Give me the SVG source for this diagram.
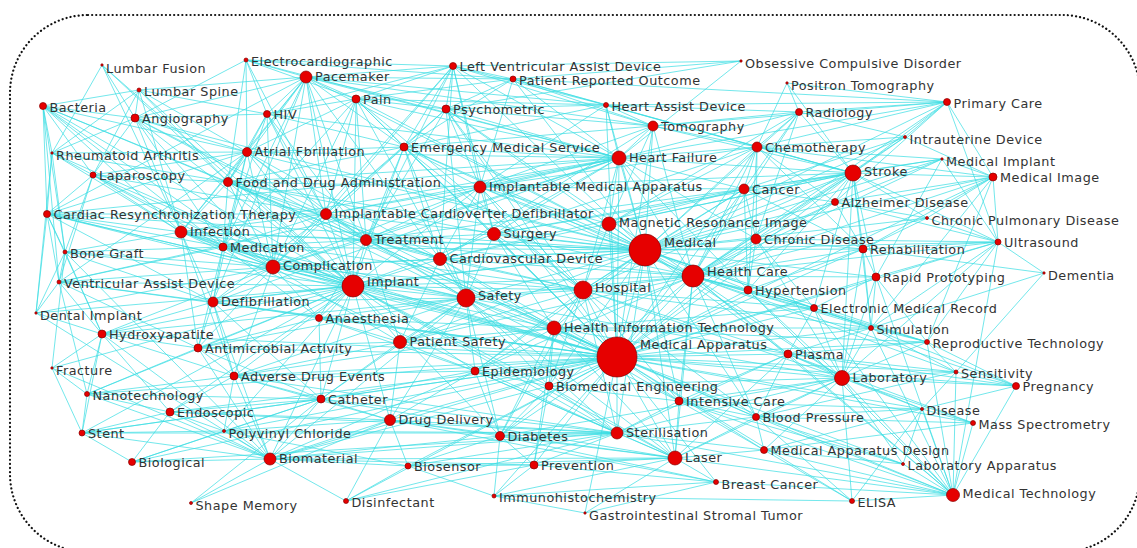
<svg xmlns="http://www.w3.org/2000/svg" width="1137" height="548" viewBox="0 0 1137 548">
<style>
.e{fill:none;stroke:#3cdde3;stroke-width:0.9;stroke-opacity:0.8}
.n{fill:#e60000;stroke:#8a0000;stroke-width:0.7}
text{font-family:"DejaVu Sans","Liberation Sans",sans-serif;font-size:12.8px;letter-spacing:0.5px;fill:#333}
</style>
<rect x="10" y="15" width="1130" height="537" rx="78" ry="78" fill="#fff" stroke="#111" stroke-width="2.2" stroke-dasharray="0.1 4" stroke-linecap="round"/>
<g id="connectors" class="e">
<path d="M617 357L645 250M617 357L353 286M617 357L693 276M617 357L466 298M617 357L583 290M617 357L554 328M617 357L853 173M617 357L619 158M617 357L842 378M617 357L675 458M617 357L953 495M617 357L273 267M617 357L609 224M617 357L480 187M617 357L440 259M617 357L494 234M617 357L366 240M617 357L326 214M617 357L400 342M617 357L270 459M617 357L617 433M617 357L181 232M617 357L475 371M617 357L549 386M617 357L321 399M617 357L390 420M617 357L500 436M617 357L534 465M617 357L679 401M617 357L756 417M617 357L764 450M617 357L788 354M617 357L871 328M617 357L814 308M617 357L748 290M617 357L756 239M617 357L744 189M617 357L757 147M617 357L653 126M617 357L234 376M617 357L198 348M617 357L319 318M617 357L213 302M617 357L102 334M617 357L170 412M617 357L224 431M617 357L408 466M617 357L922 409M617 357L956 372M617 357L927 342M617 357L876 277M617 357L863 249M617 357L223 247M617 357L228 182M617 357L404 147M617 357L446 109M617 357L356 99M617 357L993 177M617 357L998 242M617 357L903 464M617 357L973 423M617 357L1016 386M617 357L716 482M617 357L494 496M617 357L346 501M617 357L132 462M617 357L82 433M617 357L87 394M617 357L835 202M617 357L47 214M617 357L59 282M617 357L606 105M617 357L585 513M617 357L852 501"/>
<path d="M645 250L353 286M645 250L693 276M645 250L466 298M645 250L583 290M645 250L554 328M645 250L853 173M645 250L619 158M645 250L609 224M645 250L480 187M645 250L440 259M645 250L494 234M645 250L366 240M645 250L326 214M645 250L273 267M645 250L756 239M645 250L744 189M645 250L757 147M645 250L653 126M645 250L799 112M645 250L835 202M645 250L863 249M645 250L748 290M645 250L814 308M645 250L871 328M645 250L876 277M645 250L842 378M645 250L788 354M645 250L228 182M645 250L404 147M645 250L606 105M645 250L306 77M645 250L247 152M645 250L181 232M645 250L223 247M645 250L213 302M645 250L400 342M645 250L475 371M645 250L549 386M645 250L679 401M645 250L617 433M645 250L675 458M645 250L998 242M645 250L993 177M645 250L927 218M645 250L947 102M645 250L446 109M645 250L453 66M645 250L135 118M645 250L47 214M645 250L356 99M645 250L513 79M645 250L942 159M645 250L905 137M645 250L927 342M645 250L756 417"/>
<path d="M353 286L273 267M353 286L181 232M353 286L223 247M353 286L65 252M353 286L59 282M353 286L213 302M353 286L102 334M353 286L198 348M353 286L36 313M353 286L319 318M353 286L366 240M353 286L326 214M353 286L466 298M353 286L583 290M353 286L554 328M353 286L400 342M353 286L321 399M353 286L234 376M353 286L270 459M353 286L390 420M353 286L475 371M353 286L47 214M353 286L43 106M353 286L93 175M353 286L228 182M353 286L306 77M353 286L247 152M353 286L267 114M353 286L494 234M353 286L440 259M353 286L480 187M353 286L693 276M353 286L675 458M353 286L617 433M353 286L52 153M353 286L139 90M353 286L135 118M353 286L52 368M353 286L87 394M353 286L82 433M353 286L224 431M353 286L170 412M353 286L500 436M353 286L404 147M353 286L356 99M353 286L102 65M353 286L549 386"/>
<path d="M693 276L853 173M693 276L583 290M693 276L554 328M693 276L756 239M693 276L748 290M693 276L814 308M693 276L871 328M693 276L863 249M693 276L876 277M693 276L744 189M693 276L757 147M693 276L619 158M693 276L835 202M693 276L998 242M693 276L842 378M693 276L788 354M693 276L756 417M693 276L679 401M693 276L466 298M693 276L400 342M693 276L404 147M693 276L947 102M693 276L799 112M693 276L653 126M693 276L993 177M693 276L927 342M693 276L500 436M693 276L475 371M693 276L446 109M693 276L905 137M693 276L942 159M693 276L956 372M693 276L1016 386M693 276L953 495M693 276L675 458M693 276L927 218M693 276L366 240M693 276L440 259M693 276L494 234M693 276L480 187"/>
<path d="M853 173L757 147M853 173L744 189M853 173L799 112M853 173L947 102M853 173L905 137M853 173L942 159M853 173L993 177M853 173L835 202M853 173L927 218M853 173L863 249M853 173L998 242M853 173L756 239M853 173L748 290M853 173L619 158M853 173L653 126M853 173L609 224M853 173L583 290M853 173L876 277M853 173L871 328M853 173L842 378M853 173L787 83M853 173L513 79M853 173L480 187M853 173L814 308M853 173L606 105M853 173L494 234M853 173L440 259"/>
<path d="M466 298L366 240M466 298L494 234M466 298L440 259M466 298L326 214M466 298L273 267M466 298L400 342M466 298L554 328M466 298L583 290M466 298L475 371M466 298L319 318M466 298L213 302M466 298L223 247M466 298L181 232M466 298L234 376M466 298L321 399M466 298L390 420M466 298L500 436M466 298L617 433M466 298L228 182M466 298L404 147M466 298L356 99M466 298L446 109M466 298L198 348M466 298L549 386M466 298L675 458M466 298L788 354M466 298L679 401M466 298L480 187M466 298L102 334M466 298L270 459"/>
<path d="M583 290L554 328M583 290L494 234M583 290L619 158M583 290L404 147M583 290L400 342M583 290L181 232M583 290L475 371M583 290L679 401M583 290L617 433M583 290L500 436M583 290L842 378M583 290L871 328M583 290L744 189M583 290L609 224M583 290L356 99M583 290L446 109M583 290L440 259M583 290L366 240M583 290L549 386M583 290L814 308M583 290L756 417M583 290L788 354M583 290L273 267M583 290L480 187"/>
<path d="M554 328L814 308M554 328L400 342M554 328L475 371M554 328L871 328M554 328L549 386M554 328L842 378M554 328L679 401M554 328L675 458M554 328L500 436M554 328L534 465M554 328L440 259M554 328L494 234M554 328L366 240M554 328L319 318M554 328L234 376M554 328L756 417M554 328L927 342"/>
<path d="M619 158L306 77M619 158L247 152M619 158L453 66M619 158L606 105M619 158L653 126M619 158L757 147M619 158L744 189M619 158L480 187M619 158L326 214M619 158L47 214M619 158L59 282M619 158L404 147M619 158L228 182M619 158L446 109M619 158L356 99M619 158L513 79M619 158L267 114M619 158L246 60M619 158L799 112M619 158L609 224M619 158L440 259M619 158L494 234M619 158L366 240M619 158L213 302M619 158L748 290M619 158L756 239M619 158L947 102M619 158L741 61M619 158L273 267M619 158L181 232"/>
<path d="M842 378L956 372M842 378L1016 386M842 378L922 409M842 378L973 423M842 378L953 495M842 378L903 464M842 378L756 417M842 378L764 450M842 378L852 501M842 378L788 354M842 378L871 328M842 378L927 342M842 378L876 277M842 378L814 308M842 378L675 458M842 378L679 401M842 378L617 433M842 378L549 386M842 378L756 239M842 378L748 290M842 378L998 242M842 378L500 436M842 378L863 249"/>
<path d="M953 495L922 409M953 495L973 423M953 495L903 464M953 495L764 450M953 495L756 417M953 495L956 372M953 495L871 328M953 495L788 354M953 495L927 342M953 495L679 401M953 495L675 458M953 495L617 433M953 495L876 277M953 495L852 501M953 495L716 482M953 495L1016 386M953 495L998 242M953 495L814 308M953 495L748 290"/>
<path d="M675 458L617 433M675 458L716 482M675 458L534 465M675 458L500 436M675 458L549 386M675 458L679 401M675 458L756 417M675 458L764 450M675 458L788 354M675 458L475 371M675 458L390 420M675 458L408 466M675 458L494 496M675 458L585 513M675 458L321 399M675 458L270 459"/>
<path d="M617 433L549 386M617 433L500 436M617 433L534 465M617 433L475 371M617 433L390 420M617 433L321 399M617 433L270 459M617 433L346 501M617 433L679 401M617 433L756 417M617 433L764 450M617 433L170 412M617 433L224 431M617 433L132 462M617 433L181 232M617 433L82 433M617 433L234 376M617 433L408 466M617 433L788 354"/>
<path d="M270 459L102 334M270 459L224 431M270 459L132 462M270 459L170 412M270 459L82 433M270 459L87 394M270 459L191 503M270 459L346 501M270 459L408 466M270 459L390 420M270 459L321 399M270 459L234 376M270 459L198 348M270 459L36 313M270 459L52 368M270 459L549 386M270 459L500 436M270 459L475 371M270 459L534 465M270 459L65 252M270 459L213 302"/>
<path d="M306 77L246 60M306 77L267 114M306 77L247 152M306 77L356 99M306 77L453 66M306 77L139 90M306 77L135 118M306 77L326 214M306 77L47 214M306 77L213 302M306 77L273 267M306 77L181 232M306 77L366 240M306 77L228 182M306 77L513 79M306 77L446 109M306 77L606 105M306 77L653 126M306 77L404 147M306 77L440 259M306 77L223 247"/>
<path d="M247 152L246 60M247 152L267 114M247 152L135 118M247 152L228 182M247 152L93 175M247 152L326 214M247 152L47 214M247 152L223 247M247 152L356 99M247 152L52 153M247 152L366 240M247 152L43 106M247 152L139 90M247 152L273 267M247 152L213 302M247 152L404 147M247 152L440 259M247 152L181 232M247 152L59 282"/>
<path d="M453 66L356 99M453 66L404 147M453 66L480 187M453 66L513 79M453 66L741 61M453 66L653 126M453 66L606 105M453 66L446 109M453 66L440 259M453 66L366 240M453 66L273 267M453 66L494 234M453 66L246 60M453 66L267 114M453 66L326 214"/>
<path d="M43 106L52 153M43 106L47 214M43 106L181 232M43 106L93 175M43 106L135 118M43 106L139 90M43 106L65 252M43 106L273 267M43 106L228 182M43 106L223 247M43 106L366 240M43 106L59 282"/>
<path d="M139 90L135 118M139 90L267 114M139 90L52 153M139 90L93 175M139 90L228 182M139 90L181 232M102 65L181 232M102 65L52 153M102 65L135 118M102 65L228 182M135 118L267 114M135 118L52 153M135 118L93 175M135 118L181 232M135 118L366 240M135 118L326 214M135 118L273 267M135 118L223 247M135 118L246 60M267 114L246 60M267 114L228 182M267 114L326 214M267 114L223 247M267 114L273 267M267 114L366 240M267 114L356 99M267 114L404 147M246 60L228 182M246 60L326 214M246 60L356 99M246 60L513 79"/>
<path d="M52 153L93 175M52 153L47 214M52 153L181 232M52 153L65 252M52 153L228 182M52 153L36 313M93 175L47 214M93 175L181 232M93 175L228 182M93 175L326 214M93 175L223 247M93 175L65 252M93 175L273 267M93 175L59 282M228 182L326 214M228 182L480 187M228 182L404 147M228 182L366 240M228 182L273 267M228 182L223 247M228 182L181 232M228 182L440 259M228 182L494 234"/>
<path d="M47 214L181 232M47 214L65 252M47 214L59 282M47 214L36 313M47 214L326 214M47 214L223 247M47 214L273 267M47 214L213 302M47 214L102 334M36 313L65 252M36 313L102 334M36 313L59 282M36 313L273 267M65 252L181 232M65 252L59 282M65 252L102 334M65 252L273 267M65 252L52 368M65 252L223 247M65 252L213 302M59 282L102 334M59 282L213 302M59 282L223 247M59 282L273 267M59 282L198 348M59 282L87 394"/>
<path d="M102 334L82 433M102 334L87 394M102 334L52 368M102 334L198 348M102 334L170 412M102 334L234 376M102 334L273 267M102 334L213 302M52 368L87 394M52 368L82 433M82 433L87 394M82 433L170 412M82 433L224 431M82 433L321 399M82 433L132 462M87 394L170 412M87 394L234 376M87 394L198 348M87 394L321 399M132 462L170 412M132 462L224 431M132 462L321 399M170 412L224 431M170 412L321 399M170 412L234 376M170 412L390 420M224 431L321 399M224 431L390 420M224 431L234 376M224 431L408 466M191 503L321 399M191 503L390 420"/>
<path d="M346 501L408 466M346 501L390 420M346 501L534 465M408 466L390 420M408 466L500 436M408 466L534 465M494 496L534 465M494 496L852 501M494 496L716 482M494 496L585 513M494 496L500 436M494 496L408 466M585 513L716 482M716 482L534 465M716 482L500 436M716 482L390 420"/>
<path d="M852 501L764 450M852 501L922 409M852 501L756 417M903 464L764 450M903 464L756 417M903 464L922 409M903 464L679 401M973 423L756 417M973 423L922 409M973 423L788 354M973 423L764 450M922 409L1016 386M922 409L756 417M922 409L788 354M922 409L956 372M922 409L764 450M922 409L679 401M1016 386L956 372M1016 386L927 342M1016 386L788 354M1016 386L871 328M956 372L927 342M956 372L871 328M956 372L1044 273M956 372L788 354M956 372L756 417"/>
<path d="M927 342L871 328M927 342L998 242M927 342L876 277M927 342L788 354M927 342L814 308M1044 273L998 242M1044 273L863 249M1044 273L871 328M998 242L993 177M998 242L927 218M998 242L863 249M998 242L835 202M998 242L876 277M998 242L871 328M998 242L942 159M998 242L756 239M993 177L942 159M993 177L947 102M993 177L757 147M993 177L835 202M993 177L863 249M993 177L871 328M993 177L927 342M993 177L927 218M993 177L905 137"/>
<path d="M942 159L757 147M942 159L876 277M942 159L744 189M942 159L835 202M905 137L947 102M905 137L757 147M905 137L799 112M905 137L744 189M947 102L787 83M947 102L799 112M947 102L606 105M947 102L757 147M947 102L998 242M947 102L513 79M947 102L653 126M947 102L835 202M741 61L446 109M741 61L513 79M787 83L799 112M787 83L757 147"/>
<path d="M799 112L757 147M799 112L744 189M799 112L653 126M799 112L609 224M799 112L606 105M799 112L756 239M757 147L744 189M757 147L653 126M757 147L756 239M757 147L835 202M757 147L480 187M757 147L609 224M757 147L748 290M757 147L863 249M757 147L494 234M757 147L606 105M744 189L835 202M744 189L756 239M744 189L480 187M744 189L609 224M744 189L494 234M744 189L366 240M744 189L748 290M744 189L863 249M744 189L440 259"/>
<path d="M653 126L606 105M653 126L609 224M653 126L480 187M653 126L404 147M653 126L513 79M653 126L446 109M653 126L440 259M606 105L513 79M606 105L446 109M606 105L404 147M606 105L480 187M606 105L356 99M513 79L446 109M513 79L356 99M513 79L404 147M513 79L480 187M356 99L446 109M356 99L404 147M356 99L326 214M356 99L366 240M356 99L273 267M356 99L223 247M446 109L404 147M446 109L480 187M446 109L366 240M446 109L326 214"/>
<path d="M404 147L480 187M404 147L326 214M404 147L366 240M404 147L440 259M404 147L273 267M404 147L494 234M480 187L326 214M480 187L494 234M480 187L440 259M480 187L366 240M480 187L609 224M480 187L273 267M326 214L366 240M326 214L273 267M326 214L223 247M326 214L181 232M326 214L213 302M326 214L440 259M366 240L273 267M366 240L440 259M366 240L494 234M366 240L223 247M366 240L181 232M366 240L319 318M366 240L400 342"/>
<path d="M273 267L181 232M273 267L223 247M273 267L213 302M273 267L319 318M273 267L198 348M273 267L234 376M273 267L400 342M273 267L440 259M181 232L223 247M181 232L213 302M181 232L198 348M181 232L234 376M223 247L213 302M223 247L319 318M223 247L198 348M213 302L198 348M213 302L319 318M213 302L234 376M213 302L321 399M198 348L234 376M198 348L319 318M198 348L321 399M198 348L400 342M234 376L321 399M234 376L400 342M234 376L475 371M234 376L390 420M319 318L400 342M319 318L321 399M319 318L475 371"/>
<path d="M400 342L475 371M400 342L321 399M400 342L390 420M400 342L440 259M475 371L549 386M475 371L390 420M475 371L500 436M475 371L321 399M321 399L390 420M390 420L500 436M500 436L534 465M500 436L549 386M549 386L679 401M549 386L534 465M679 401L756 417M679 401L764 450M679 401L788 354M756 417L764 450M756 417L788 354M788 354L871 328M788 354L814 308M871 328L814 308M871 328L876 277M871 328L863 249M814 308L748 290M814 308L876 277M814 308L756 239M748 290L756 239M748 290L863 249M756 239L835 202M756 239L863 249M863 249L835 202M863 249L876 277M863 249L927 218M835 202L927 218"/>
</g>
<g id="nodes">
<g id="n-lumbar-fusion"><circle class="n" cx="102" cy="65" r="1.2"/><text x="106" y="73">Lumbar Fusion</text></g>
<g id="n-lumbar-spine"><circle class="n" cx="139" cy="90" r="2"/><text x="144" y="96">Lumbar Spine</text></g>
<g id="n-bacteria"><circle class="n" cx="43" cy="106" r="3.5"/><text x="49.5" y="111.5">Bacteria</text></g>
<g id="n-angiography"><circle class="n" cx="135" cy="118" r="4"/><text x="142" y="122.5">Angiography</text></g>
<g id="n-electrocardiographic"><circle class="n" cx="246" cy="60" r="2"/><text x="251" y="66">Electrocardiographic</text></g>
<g id="n-hiv"><circle class="n" cx="267" cy="114" r="3.5"/><text x="273.5" y="119">HIV</text></g>
<g id="n-rheumatoid-arthritis"><circle class="n" cx="52" cy="153" r="1.2"/><text x="56" y="160">Rheumatoid Arthritis</text></g>
<g id="n-atrial-fbrillation"><circle class="n" cx="247" cy="152" r="4.5"/><text x="254.5" y="156">Atrial Fbrillation</text></g>
<g id="n-laparoscopy"><circle class="n" cx="93" cy="175" r="3"/><text x="99" y="180">Laparoscopy</text></g>
<g id="n-fda"><circle class="n" cx="228" cy="182" r="4.5"/><text x="235.5" y="186.5">Food and Drug Administration</text></g>
<g id="n-pacemaker"><circle class="n" cx="306" cy="77" r="6"/><text x="315" y="80.5">Pacemaker</text></g>
<g id="n-lvad"><circle class="n" cx="453" cy="66" r="3.5"/><text x="459.5" y="71">Left Ventricular Assist Device</text></g>
<g id="n-pro"><circle class="n" cx="513" cy="79" r="3"/><text x="519" y="84.5">Patient Reported Outcome</text></g>
<g id="n-pain"><circle class="n" cx="356" cy="99" r="4"/><text x="363" y="103.5">Pain</text></g>
<g id="n-psychometric"><circle class="n" cx="446" cy="109" r="4"/><text x="453" y="113.5">Psychometric</text></g>
<g id="n-ems"><circle class="n" cx="404" cy="147" r="4"/><text x="411" y="151.5">Emergency Medical Service</text></g>
<g id="n-ima"><circle class="n" cx="480" cy="187" r="6"/><text x="489" y="191">Implantable Medical Apparatus</text></g>
<g id="n-ocd"><circle class="n" cx="741" cy="61" r="1.2"/><text x="745" y="68">Obsessive Compulsive Disorder</text></g>
<g id="n-positron"><circle class="n" cx="787" cy="83" r="1.2"/><text x="791" y="90">Positron Tomography</text></g>
<g id="n-heart-assist"><circle class="n" cx="606" cy="105" r="2.5"/><text x="611.5" y="111">Heart Assist Device</text></g>
<g id="n-tomography"><circle class="n" cx="653" cy="126" r="5"/><text x="661" y="130.5">Tomography</text></g>
<g id="n-radiology"><circle class="n" cx="799" cy="112" r="3.5"/><text x="805.5" y="117">Radiology</text></g>
<g id="n-chemotherapy"><circle class="n" cx="757" cy="147" r="5"/><text x="765" y="151.5">Chemotherapy</text></g>
<g id="n-heart-failure"><circle class="n" cx="619" cy="158" r="7"/><text x="629" y="161.5">Heart Failure</text></g>
<g id="n-cancer"><circle class="n" cx="744" cy="189" r="5"/><text x="752" y="193.5">Cancer</text></g>
<g id="n-primary-care"><circle class="n" cx="947" cy="102" r="3.5"/><text x="953.5" y="107.5">Primary Care</text></g>
<g id="n-iud"><circle class="n" cx="905" cy="137" r="1.5"/><text x="909.5" y="144">Intrauterine Device</text></g>
<g id="n-medical-implant"><circle class="n" cx="942" cy="159" r="1.2"/><text x="946" y="166">Medical Implant</text></g>
<g id="n-stroke"><circle class="n" cx="853" cy="173" r="8"/><text x="864" y="176">Stroke</text></g>
<g id="n-medical-image"><circle class="n" cx="993" cy="177" r="4"/><text x="1000" y="181.5">Medical Image</text></g>
<g id="n-crt"><circle class="n" cx="47" cy="214" r="3.5"/><text x="53.5" y="219">Cardiac Resynchronization Therapy</text></g>
<g id="n-infection"><circle class="n" cx="181" cy="232" r="6"/><text x="190" y="236">Infection</text></g>
<g id="n-medication"><circle class="n" cx="223" cy="247" r="4"/><text x="230" y="251.5">Medication</text></g>
<g id="n-bone-graft"><circle class="n" cx="65" cy="252" r="2"/><text x="70" y="258">Bone Graft</text></g>
<g id="n-complication"><circle class="n" cx="273" cy="267" r="7"/><text x="283" y="270">Complication</text></g>
<g id="n-vad"><circle class="n" cx="59" cy="282" r="2"/><text x="64" y="288">Ventricular Assist Device</text></g>
<g id="n-defibrillation"><circle class="n" cx="213" cy="302" r="5"/><text x="221" y="306">Defibrillation</text></g>
<g id="n-dental-implant"><circle class="n" cx="36" cy="313" r="1.2"/><text x="40" y="320">Dental Implant</text></g>
<g id="n-hydroxyapatite"><circle class="n" cx="102" cy="334" r="4"/><text x="109" y="338.5">Hydroxyapatite</text></g>
<g id="n-antimicrobial"><circle class="n" cx="198" cy="348" r="4"/><text x="205" y="352.5">Antimicrobial Activity</text></g>
<g id="n-icd"><circle class="n" cx="326" cy="214" r="5.5"/><text x="334.5" y="218">Implantable Cardioverter Defibrillator</text></g>
<g id="n-treatment"><circle class="n" cx="366" cy="240" r="5.5"/><text x="374.5" y="244">Treatment</text></g>
<g id="n-surgery"><circle class="n" cx="494" cy="234" r="6.5"/><text x="503.5" y="237.5">Surgery</text></g>
<g id="n-cardiovascular-device"><circle class="n" cx="440" cy="259" r="6.5"/><text x="449.5" y="262.5">Cardiovascular Device</text></g>
<g id="n-implant"><circle class="n" cx="353" cy="286" r="11"/><text x="367" y="285.5">Implant</text></g>
<g id="n-safety"><circle class="n" cx="466" cy="298" r="9"/><text x="478" y="299.5">Safety</text></g>
<g id="n-anaesthesia"><circle class="n" cx="319" cy="318" r="3.5"/><text x="325.5" y="323">Anaesthesia</text></g>
<g id="n-patient-safety"><circle class="n" cx="400" cy="342" r="6.5"/><text x="409.5" y="345.5">Patient Safety</text></g>
<g id="n-hit"><circle class="n" cx="554" cy="328" r="7"/><text x="564" y="331.5">Health Information Technology</text></g>
<g id="n-mri"><circle class="n" cx="609" cy="224" r="7"/><text x="619" y="227">Magnetic Resonance Image</text></g>
<g id="n-medical"><circle class="n" cx="645" cy="250" r="16"/><text x="664" y="246.5">Medical</text></g>
<g id="n-chronic-disease"><circle class="n" cx="756" cy="239" r="5"/><text x="764" y="243.5">Chronic Disease</text></g>
<g id="n-health-care"><circle class="n" cx="693" cy="276" r="11"/><text x="707" y="276">Health Care</text></g>
<g id="n-hospital"><circle class="n" cx="583" cy="290" r="9"/><text x="595" y="292">Hospital</text></g>
<g id="n-hypertension"><circle class="n" cx="748" cy="290" r="4"/><text x="755" y="295">Hypertension</text></g>
<g id="n-emr"><circle class="n" cx="814" cy="308" r="3.5"/><text x="820.5" y="313">Electronic Medical Record</text></g>
<g id="n-medical-apparatus"><circle class="n" cx="617" cy="357" r="20"/><text x="640" y="349">Medical Apparatus</text></g>
<g id="n-plasma"><circle class="n" cx="788" cy="354" r="4"/><text x="795" y="358.5">Plasma</text></g>
<g id="n-alzheimer"><circle class="n" cx="835" cy="202" r="3.5"/><text x="841.5" y="207">Alzheimer Disease</text></g>
<g id="n-cpd"><circle class="n" cx="927" cy="218" r="1.5"/><text x="931.5" y="225">Chronic Pulmonary Disease</text></g>
<g id="n-ultrasound"><circle class="n" cx="998" cy="242" r="3"/><text x="1004" y="247">Ultrasound</text></g>
<g id="n-rehabilitation"><circle class="n" cx="863" cy="249" r="4"/><text x="870" y="253.5">Rehabilitation</text></g>
<g id="n-dementia"><circle class="n" cx="1044" cy="273" r="1.2"/><text x="1048" y="280">Dementia</text></g>
<g id="n-rapid-prototyping"><circle class="n" cx="876" cy="277" r="4"/><text x="883" y="281.5">Rapid Prototyping</text></g>
<g id="n-simulation"><circle class="n" cx="871" cy="328" r="2.5"/><text x="876.5" y="334">Simulation</text></g>
<g id="n-reproductive"><circle class="n" cx="927" cy="342" r="2.5"/><text x="932.5" y="348">Reproductive Technology</text></g>
<g id="n-fracture"><circle class="n" cx="52" cy="368" r="1.2"/><text x="56" y="375">Fracture</text></g>
<g id="n-ade"><circle class="n" cx="234" cy="376" r="4"/><text x="241" y="380.5">Adverse Drug Events</text></g>
<g id="n-nanotechnology"><circle class="n" cx="87" cy="394" r="2.5"/><text x="92.5" y="400">Nanotechnology</text></g>
<g id="n-endoscopic"><circle class="n" cx="170" cy="412" r="4"/><text x="177" y="416.5">Endoscopic</text></g>
<g id="n-stent"><circle class="n" cx="82" cy="433" r="3"/><text x="88" y="438">Stent</text></g>
<g id="n-pvc"><circle class="n" cx="224" cy="431" r="1.5"/><text x="228.5" y="437.5">Polyvinyl Chloride</text></g>
<g id="n-biological"><circle class="n" cx="132" cy="462" r="3.5"/><text x="138.5" y="467">Biological</text></g>
<g id="n-biomaterial"><circle class="n" cx="270" cy="459" r="6"/><text x="279" y="463">Biomaterial</text></g>
<g id="n-shape-memory"><circle class="n" cx="191" cy="503" r="1.5"/><text x="195.5" y="510">Shape Memory</text></g>
<g id="n-epidemiology"><circle class="n" cx="475" cy="371" r="4"/><text x="482" y="375.5">Epidemiology</text></g>
<g id="n-biomedical-engineering"><circle class="n" cx="549" cy="386" r="4"/><text x="556" y="390.5">Biomedical Engineering</text></g>
<g id="n-catheter"><circle class="n" cx="321" cy="399" r="4"/><text x="328" y="403.5">Catheter</text></g>
<g id="n-drug-delivery"><circle class="n" cx="390" cy="420" r="5.5"/><text x="398.5" y="424">Drug Delivery</text></g>
<g id="n-diabetes"><circle class="n" cx="500" cy="436" r="4.5"/><text x="507.5" y="440.5">Diabetes</text></g>
<g id="n-biosensor"><circle class="n" cx="408" cy="466" r="3"/><text x="414" y="471">Biosensor</text></g>
<g id="n-prevention"><circle class="n" cx="534" cy="465" r="4"/><text x="541" y="469.5">Prevention</text></g>
<g id="n-disinfectant"><circle class="n" cx="346" cy="501" r="2.5"/><text x="351.5" y="507">Disinfectant</text></g>
<g id="n-ihc"><circle class="n" cx="494" cy="496" r="2"/><text x="499" y="502">Immunohistochemistry</text></g>
<g id="n-intensive-care"><circle class="n" cx="679" cy="401" r="4"/><text x="686" y="405.5">Intensive Care</text></g>
<g id="n-blood-pressure"><circle class="n" cx="756" cy="417" r="3.5"/><text x="762.5" y="422">Blood Pressure</text></g>
<g id="n-sterilisation"><circle class="n" cx="617" cy="433" r="6"/><text x="626" y="437">Sterilisation</text></g>
<g id="n-laser"><circle class="n" cx="675" cy="458" r="7"/><text x="685" y="462">Laser</text></g>
<g id="n-mad"><circle class="n" cx="764" cy="450" r="3.5"/><text x="770.5" y="455">Medical Apparatus Design</text></g>
<g id="n-breast-cancer"><circle class="n" cx="716" cy="482" r="2.5"/><text x="721.5" y="488.5">Breast Cancer</text></g>
<g id="n-gist"><circle class="n" cx="585" cy="513" r="1.2"/><text x="589" y="520">Gastrointestinal Stromal Tumor</text></g>
<g id="n-laboratory"><circle class="n" cx="842" cy="378" r="7.5"/><text x="852.5" y="381.5">Laboratory</text></g>
<g id="n-sensitivity"><circle class="n" cx="956" cy="372" r="2"/><text x="961" y="378">Sensitivity</text></g>
<g id="n-pregnancy"><circle class="n" cx="1016" cy="386" r="3.5"/><text x="1022.5" y="391">Pregnancy</text></g>
<g id="n-disease"><circle class="n" cx="922" cy="409" r="1.5"/><text x="926.5" y="415">Disease</text></g>
<g id="n-mass-spectrometry"><circle class="n" cx="973" cy="423" r="2.5"/><text x="978.5" y="429">Mass Spectrometry</text></g>
<g id="n-lab-apparatus"><circle class="n" cx="903" cy="464" r="1.5"/><text x="907.5" y="470">Laboratory Apparatus</text></g>
<g id="n-medical-technology"><circle class="n" cx="953" cy="495" r="6.5"/><text x="962.5" y="498">Medical Technology</text></g>
<g id="n-elisa"><circle class="n" cx="852" cy="501" r="2.5"/><text x="857.5" y="507">ELISA</text></g>
</g>
</svg>
